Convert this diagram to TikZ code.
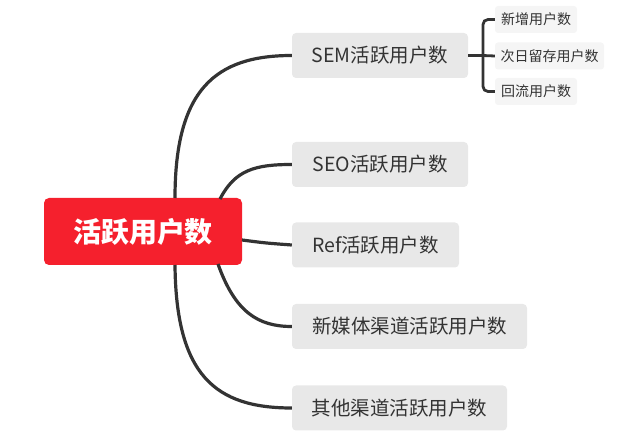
\documentclass[tikz,border=0pt]{standalone}
\usepackage{fontspec}
\setmainfont{Noto Sans CJK SC}
\definecolor{rootred}{RGB}{245,32,45}
\definecolor{topicgray}{RGB}{232,232,232}
\definecolor{subgray}{RGB}{245,245,245}
\definecolor{ink}{RGB}{51,51,51}
\begin{document}
\begin{tikzpicture}[x=1pt,y=-1pt,
  topic/.style={fill=topicgray,rounded corners=4pt,inner sep=0pt,minimum height=45pt,text=ink,font=\fontsize{19.5}{20}\selectfont},
  subtopic/.style={fill=subgray,rounded corners=3pt,inner sep=0pt,minimum height=27pt,text=ink,font=\fontsize{14}{14}\selectfont},
  link/.style={draw=ink,line width=3.2pt},
  sublink/.style={draw=ink,line width=2.8pt,rounded corners=5pt}]
\useasboundingbox (0,0) rectangle (619,446);
\node[fill=rootred,rounded corners=5pt,minimum width=198pt,minimum height=67pt,inner sep=0pt,text=white,font=\fontsize{28}{28}\selectfont\bfseries] (root) at (143,231.5) {活跃用户数};
\node[topic,minimum width=176pt] (sem) at (380,55.5) {SEM活跃用户数};
\node[topic,minimum width=176pt] (seo) at (380,164.5) {SEO活跃用户数};
\node[topic,minimum width=167pt] (ref) at (375.5,245) {Ref活跃用户数};
\node[topic,minimum width=235pt] (xmt) at (409.5,326.5) {新媒体渠道活跃用户数};
\node[topic,minimum width=215pt] (qt) at (399.5,408) {其他渠道活跃用户数};
\node[subtopic,minimum width=82pt] (s1) at (536,19.5) {新增用户数};
\node[subtopic,minimum width=109pt] (s2) at (549.5,56) {次日留存用户数};
\node[subtopic,minimum width=82pt] (s3) at (536,91.5) {回流用户数};
\coordinate (rtop1) at (175,198);
\coordinate (rtop2) at (220,199);
\coordinate (rbot1) at (175,265);
\coordinate (rbot2) at (218,264);
\coordinate (rright) at (242,240);
\draw[link] (rtop1) .. controls (175,90) and (215,55.5) .. (sem.west);
\draw[link] (rtop2) .. controls (235,170) and (255,164.5) .. (seo.west);
\draw[link] (rright) .. controls (265,243) .. (ref.west);
\draw[link] (rbot2) .. controls (235,312) and (258,326.5) .. (xmt.west);
\draw[link] (rbot1) .. controls (176,375) and (215,408) .. (qt.west);
\coordinate (bx) at (483,55.5);
\draw[sublink] (sem.east) -- (bx) -- (s2.west);
\draw[sublink] (s1.west) -- (483,19.5) -- (483,91.5) -- (s3.west);
\end{tikzpicture}
\end{document}
